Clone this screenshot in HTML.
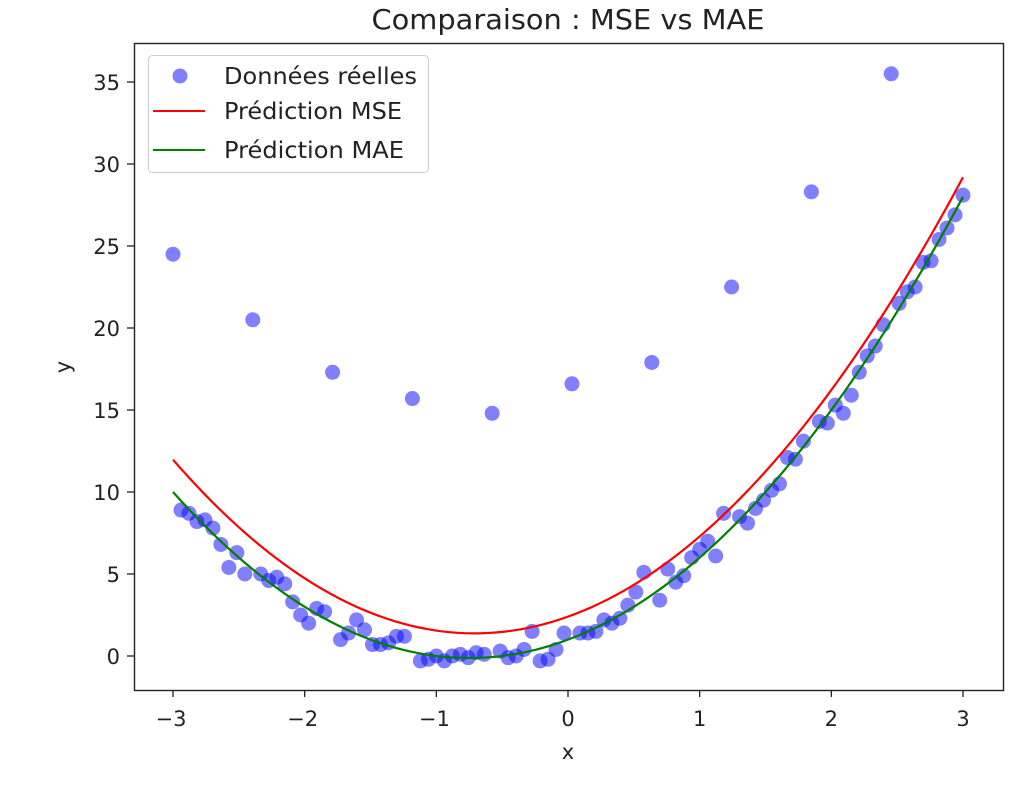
<!DOCTYPE html>
<html><head><meta charset="utf-8"><style>
body{margin:0;background:#fff;font-family:"Liberation Sans","DejaVu Sans",sans-serif}
svg text{font-family:"DejaVu Sans","Liberation Sans",sans-serif;fill:#222}
</style></head><body>
<svg id="chart" width="1026" height="781">
<rect x="0" y="0" width="1026" height="781" fill="#fff"/>
<text x="568" y="29" font-size="28" text-anchor="middle" textLength="393" lengthAdjust="spacingAndGlyphs">Comparaison : MSE vs MAE</text>
<g id="plot"></g>
<rect x="134.5" y="43.5" width="869" height="647" fill="none" stroke="#222" stroke-width="1.4"/>
<text x="568" y="759" font-size="21" text-anchor="middle">x</text>
<text x="0" y="0" font-size="21" text-anchor="middle" transform="translate(70,367) rotate(-90)">y</text>
<g>
<rect x="148.5" y="55.5" width="280" height="117" rx="4" fill="#fff" fill-opacity="0.8" stroke="#ccc"/>
<g><circle cx="180" cy="76" r="7.5" fill="#0000ff" fill-opacity="0.5"/><text x="224" y="84" font-size="23" textLength="193" lengthAdjust="spacingAndGlyphs">Données réelles</text></g>
<g><line x1="153" y1="111" x2="205" y2="111" stroke="#ff0000" stroke-width="2"/><text x="224" y="119" font-size="23" textLength="178" lengthAdjust="spacingAndGlyphs">Prédiction MSE</text></g>
<g><line x1="153" y1="150" x2="205" y2="150" stroke="#008000" stroke-width="2"/><text x="224" y="158" font-size="23" textLength="180" lengthAdjust="spacingAndGlyphs">Prédiction MAE</text></g>
</g>
</svg>
<script>
const xTicks=[-3,-2,-1,0,1,2,3];
const yTicks=[0,5,10,15,20,25,30,35];
const yData=[24.5,8.9,8.7,8.2,8.3,7.8,6.8,5.4,6.3,5.0,
20.5,5.0,4.6,4.8,4.4,3.3,2.5,2.0,2.9,2.7,
17.3,1.0,1.4,2.2,1.6,0.7,0.7,0.8,1.2,1.2,
15.7,-0.3,-0.2,0.0,-0.3,0.0,0.1,-0.1,0.2,0.1,
14.8,0.3,-0.1,0.0,0.4,1.5,-0.3,-0.2,0.4,1.4,
16.6,1.4,1.4,1.5,2.2,2.0,2.3,3.1,3.9,5.1,
17.9,3.4,5.3,4.5,4.9,6.0,6.5,7.0,6.1,8.7,
22.5,8.5,8.1,9.0,9.5,10.1,10.5,12.1,12.0,13.1,
28.3,14.3,14.2,15.3,14.8,15.9,17.3,18.3,18.9,20.2,
35.5,21.5,22.2,22.5,24.0,24.1,25.4,26.1,26.9,28.1];
const mseCoef=[2.02,2.87,2.4];
const maeCoef=[2.0,3.0,1.0];
const xMin=-3,xMax=3;
const sx=v=>173+(v+3)*(790/6);
const sy=v=>656-v*16.4;
const NS='http://www.w3.org/2000/svg';
const g=document.getElementById('plot');
function mk(t,a){const e=document.createElementNS(NS,t);for(const k in a)e.setAttribute(k,a[k]);g.appendChild(e);return e;}
xTicks.forEach(t=>{
 const l=mk('line',{x1:sx(t),x2:sx(t),y1:690,y2:697,stroke:'#222','stroke-width':1.3});
 
 
 const tx=mk('text',{x:sx(t)+(t<0?-2:0),y:726,'font-size':21,'text-anchor':'middle'});
 tx.textContent=(t<0?'\u2212'+(-t):t);
 
 
});
yTicks.forEach(t=>{
 const l=mk('line',{x1:127,x2:134,y1:sy(t),y2:sy(t),stroke:'#222','stroke-width':1.3});
 
 
 const tx=mk('text',{x:120,y:sy(t)+8,'font-size':21,'text-anchor':'end'});
 tx.textContent=t;
 
 
});
yData.forEach((v,i)=>{
 const x=xMin+(xMax-xMin)*i/(yData.length-1);
 const c=mk('circle',{cx:sx(x),cy:sy(v),r:7.5,fill:'#0000ff','fill-opacity':0.5});
 
 
});
function curve(coef,color,name){
 let d='';
 for(let i=0;i<=100;i++){const x=xMin+(xMax-xMin)*i/100;const y=coef[0]*x*x+coef[1]*x+coef[2];d+=(i?'L':'M')+sx(x).toFixed(2)+' '+sy(y).toFixed(2);}
 const p=mk('path',{d:d,fill:'none',stroke:color,'stroke-width':2.2});
 
 
}
curve(mseCoef,'#ff0000','mse-prediction-line');
curve(maeCoef,'#008000','mae-prediction-line');
</script>
</body></html>
